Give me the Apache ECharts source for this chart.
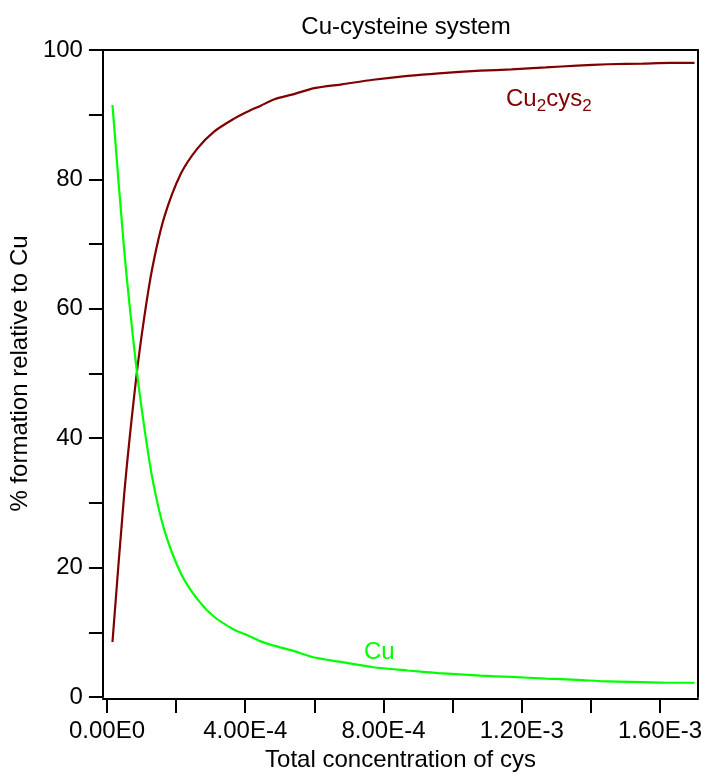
<!DOCTYPE html>
<html>
<head>
<meta charset="utf-8">
<script src="https://cdn.jsdelivr.net/npm/echarts@6/dist/echarts.min.js"></script>
<style>
html,body{margin:0;padding:0;background:#fff;}
#chart{width:707px;height:777px;}
</style>
</head>
<body>
<div id="chart"></div>
<script>
// Total concentration of cys (mol/L)
const cysConc = [1.6e-5, 5.0e-5, 8.4e-5, 1.08e-4, 1.32e-4, 1.66e-4, 2.14e-4, 2.62e-4, 3.10e-4, 3.68e-4, 4.0e-4, 4.45e-4, 4.85e-4, 5.35e-4, 6.0e-4, 6.8e-4, 7.7e-4, 8.7e-4, 9.6e-4, 1.08e-3, 1.17e-3, 1.27e-3, 1.36e-3, 1.45e-3, 1.55e-3, 1.63e-3, 1.70e-3];
// % Cu (free)
const cuPct = [91.5, 69.0, 51.5, 41.7, 33.6, 25.8, 19.1, 15.1, 12.4, 10.4, 9.7, 8.6, 7.9, 7.2, 6.1, 5.4, 4.6, 4.1, 3.7, 3.3, 3.1, 2.85, 2.65, 2.4, 2.3, 2.2, 2.2];
// % Cu2cys2
const cu2cys2Pct = [8.5, 31.4, 49.0, 58.7, 66.5, 74.2, 80.9, 84.8, 87.4, 89.4, 90.3, 91.4, 92.4, 93.1, 94.1, 94.7, 95.4, 96.0, 96.4, 96.8, 97.0, 97.3, 97.6, 97.8, 97.9, 98.0, 98.0];
// tick positions / labels
const xTickValues = [0, 2e-4, 4e-4, 6e-4, 8e-4, 1.0e-3, 1.2e-3, 1.4e-3, 1.6e-3];
const xLabelValues = [0, 4e-4, 8e-4, 1.2e-3, 1.6e-3];
const yTickValues = [0, 10, 20, 30, 40, 50, 60, 70, 80, 90, 100];
const yLabelValues = [0, 20, 40, 60, 80, 100];

const FONT = 'Liberation Sans';
const FS = 24;
const BLACK = '#000';
const RED = '#800000';
const GREEN = '#00ff00';

function fmtExp(v) {
  return v.toExponential(2).replace('e+', 'E').replace('e', 'E');
}

const chart = echarts.init(document.getElementById('chart'), null, {renderer: 'canvas'});
const xMin = -1.16e-5, xMax = 1.71e-3;

chart.setOption({
  backgroundColor: '#fff',
  animation: false,
  title: {
    text: 'Cu-cysteine system',
    left: 401,
    top: 10,
    textAlign: 'center',
    textStyle: {fontFamily: FONT, fontSize: FS, fontWeight: 'normal', color: BLACK}
  },
  grid: {left: 102, right: 9, top: 50, bottom: 80, containLabel: false},
  xAxis: [{
    type: 'value',
    position: 'bottom',
    min: xMin, max: xMax,
    offset: 2,
    name: 'Total concentration of cys',
    nameLocation: 'middle',
    nameGap: 48,
    nameTextStyle: {fontFamily: FONT, fontSize: FS, color: BLACK},
    axisLine: {show: true, onZero: false, lineStyle: {color: BLACK, width: 2}},
    axisTick: {show: true, inside: false, length: 14, customValues: xTickValues, lineStyle: {color: BLACK, width: 2}},
    axisLabel: {show: true, margin: 20, customValues: xLabelValues, formatter: fmtExp, fontFamily: FONT, fontSize: FS, color: BLACK},
    splitLine: {show: false}
  }, {
    type: 'value',
    position: 'top',
    min: xMin, max: xMax,
    axisLine: {show: true, onZero: false, lineStyle: {color: BLACK, width: 2}},
    axisTick: {show: false},
    axisLabel: {show: false},
    splitLine: {show: false}
  }],
  yAxis: [{
    type: 'value',
    position: 'left',
    min: 0, max: 100,
    name: '% formation relative to Cu',
    nameLocation: 'middle',
    nameGap: 66,
    nameTextStyle: {fontFamily: FONT, fontSize: FS, color: BLACK},
    axisLine: {show: true, onZero: false, lineStyle: {color: BLACK, width: 2}},
    axisTick: {show: true, inside: false, length: 14, customValues: yTickValues, lineStyle: {color: BLACK, width: 2}},
    axisLabel: {show: true, margin: 20, customValues: yLabelValues, fontFamily: FONT, fontSize: FS, color: BLACK},
    splitLine: {show: false}
  }, {
    type: 'value',
    position: 'right',
    min: 0, max: 100,
    axisLine: {show: true, onZero: false, lineStyle: {color: BLACK, width: 2}},
    axisTick: {show: false},
    axisLabel: {show: false},
    splitLine: {show: false}
  }],
  series: [{
    name: 'Cu2cys2',
    type: 'line',
    xAxisIndex: 0, yAxisIndex: 0,
    data: cysConc.map((x, i) => [x, cu2cys2Pct[i]]),
    showSymbol: false,
    symbol: 'none',
    smooth: 0.25,
    lineStyle: {color: RED, width: 2.2},
    itemStyle: {color: RED}
  }, {
    name: 'Cu',
    type: 'line',
    xAxisIndex: 0, yAxisIndex: 0,
    data: cysConc.map((x, i) => [x, cuPct[i]]),
    showSymbol: false,
    symbol: 'none',
    smooth: 0.25,
    lineStyle: {color: GREEN, width: 2.2},
    itemStyle: {color: GREEN}
  }],
  graphic: [{
    type: 'text',
    left: 506, top: 87,
    style: {
      text: 'Cu{sub|2}cys{sub|2}',
      fill: RED,
      font: FS + 'px "' + FONT + '"',
      rich: {sub: {fontSize: 17, fontFamily: FONT, fill: RED, padding: [14, 0, 0, 0]}}
    }
  }, {
    type: 'text',
    left: 364, top: 640,
    style: {text: 'Cu', fill: GREEN, font: FS + 'px "' + FONT + '"'}
  }]
});
</script>
</body>
</html>
